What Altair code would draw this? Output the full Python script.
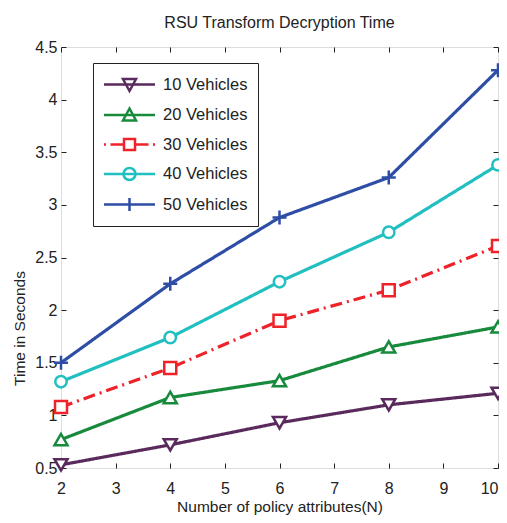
import altair as alt
import pandas as pd

# ---- data ----
x_vals = [2, 4, 6, 8, 10]
series_names = ["10 Vehicles", "20 Vehicles", "30 Vehicles", "40 Vehicles", "50 Vehicles"]
v10 = [0.53, 0.72, 0.93, 1.10, 1.21]
v20 = [0.77, 1.17, 1.33, 1.65, 1.84]
v30 = [1.08, 1.45, 1.90, 2.19, 2.61]
v40 = [1.32, 1.74, 2.27, 2.74, 3.38]
v50 = [1.50, 2.25, 2.88, 3.26, 4.28]
x_ticks = [2, 3, 4, 5, 6, 7, 8, 9, 10]
y_ticks = [0.5, 1, 1.5, 2, 2.5, 3, 3.5, 4, 4.5]

colors = ["#5a2a5c", "#178a3c", "#ee2229", "#22bfc0", "#2e4ea6"]
dashes = [[1, 0], [1, 0], [12, 5, 2, 5], [1, 0], [1, 0]]
plus_path = "M-1,0L1,0M0,-1L0,1"
marker_shapes = ["triangle-down", "triangle-up", "square", "circle", plus_path]
marker_sizes = [170, 170, 144, 130, 196]

L = "M-2.55,0L2.55,0"
legend_paths = [
    L + "M-0.65,-0.55L0.65,-0.55L0,0.65Z",
    L + "M-0.65,0.55L0.65,0.55L0,-0.65Z",
    "M-2.55,0L-2.35,0M-1.9,0L-0.55,0M0.55,0L1.9,0M2.35,0L2.55,0"
    "M-0.55,-0.55L0.55,-0.55L0.55,0.55L-0.55,0.55Z",
    L + "M-0.6,0A0.6,0.6 0 1,0 0.6,0A0.6,0.6 0 1,0 -0.6,0",
    L + "M0,-0.65L0,0.65",
]

all_vals = [v10, v20, v30, v40, v50]
rows = []
for name, vals in zip(series_names, all_vals):
    for xv, yv in zip(x_vals, vals):
        rows.append({"series": name, "x": xv, "y": yv})
df = pd.DataFrame(rows)

W, H = 437, 421
FONT = "Liberation Sans"
TXT = "#222222"

xs = alt.Scale(domain=[2, 10], nice=False, zero=False)
ys = alt.Scale(domain=[0.5, 4.5], nice=False, zero=False)

main_x = alt.Axis(orient="bottom", values=x_ticks, title="Number of policy attributes(N)",
                  ticks=False, domain=False, grid=False, labelFontSize=16, labelPadding=12,
                  labelAlign={"condition": {"test": "datum.value >= 10", "value": "right"},
                              "value": "center"},
                  labelColor=TXT, labelFont=FONT, titleFont=FONT, titleFontSize=15.5,
                  titleFontWeight="normal", titleColor=TXT, titlePadding=3, labelFlush=False)
main_y = alt.Axis(orient="left", values=y_ticks, format="~g", title="Time in Seconds",
                  ticks=False, domain=False, grid=False, labelFontSize=16, labelPadding=4,
                  labelColor=TXT, labelFont=FONT, titleFont=FONT, titleFontSize=15.5,
                  titleFontWeight="normal", titleColor=TXT, titleX=-42, titleY=281,
                  titleBaseline="middle", titleAlign="center", titleAngle=270, labelFlush=False)


def tick_axis(orient, offset, values):
    return alt.Axis(orient=orient, offset=offset, values=values, labels=False, ticks=True,
                    tickSize=5, tickColor=TXT, tickWidth=1, domain=False, grid=False, title=None)


x_axes = [main_x, tick_axis("top", -H, x_ticks), tick_axis("bottom", -H, x_ticks), None, None]
y_axes = [main_y, tick_axis("right", -W, y_ticks), tick_axis("left", -W, y_ticks), None, None]

layers = []
for i, name in enumerate(series_names):
    sub = df[df["series"] == name]
    layers.append(
        alt.Chart(sub).mark_line(color=colors[i], strokeWidth=3.2, strokeDash=dashes[i]).encode(
            x=alt.X("x:Q", scale=xs, axis=x_axes[i]),
            y=alt.Y("y:Q", scale=ys, axis=y_axes[i]),
        )
    )
for i, name in enumerate(series_names):
    sub = df[df["series"] == name]
    layers.append(
        alt.Chart(sub).mark_point(shape=marker_shapes[i], size=marker_sizes[i], filled=True,
                                  fill="white", stroke=colors[i], strokeWidth=2.5, opacity=1).encode(
            x=alt.X("x:Q", scale=xs, axis=None),
            y=alt.Y("y:Q", scale=ys, axis=None),
        )
    )

leg = alt.Legend(orient="none", legendX=32, legendY=16, title=None, symbolSize=400,
                 symbolStrokeWidth=2.5, symbolOffset=15, labelOffset=22, labelFontSize=16.5,
                 labelFont=FONT, labelColor=TXT, rowPadding=7.5, padding=10,
                 strokeColor=TXT, fillColor="white", labelLimit=300, symbolOpacity=1)
layers.append(
    alt.Chart(df).mark_point(size=0, strokeWidth=2.5).encode(
        x=alt.X("x:Q", scale=xs, axis=None),
        y=alt.Y("y:Q", scale=ys, axis=None),
        color=alt.Color("series:N", scale=alt.Scale(domain=series_names, range=colors), legend=leg),
        shape=alt.Shape("series:N", scale=alt.Scale(domain=series_names, range=legend_paths), legend=leg),
    )
)

chart = alt.layer(*layers).resolve_axis(x="independent", y="independent").properties(
    width=W, height=H,
    title=alt.Title("RSU Transform Decryption Time", fontSize=16, fontWeight="normal",
                    font=FONT, color=TXT, offset=8, anchor="middle"),
    autosize=alt.AutoSizeParams(type="none"),
    padding={"left": 53, "top": 39, "right": 1, "bottom": 47},
).configure_view(stroke=TXT, strokeWidth=1.2).configure(font=FONT)

chart.save("out.html", embed_options={"renderer": "svg", "actions": False})
